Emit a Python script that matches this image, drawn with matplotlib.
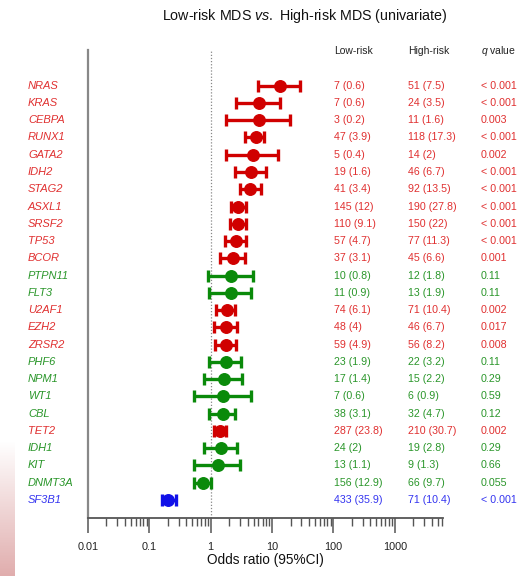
import numpy as np
import matplotlib
matplotlib.use("Agg")
import matplotlib.pyplot as plt
import matplotlib.transforms as mtransforms
from matplotlib.ticker import LogLocator, NullFormatter, FixedLocator

plt.rcParams['font.family'] = ['Liberation Sans', 'DejaVu Sans']
plt.rcParams['mathtext.fontset'] = 'custom'
plt.rcParams['mathtext.rm'] = 'Liberation Sans'
plt.rcParams['mathtext.it'] = 'Liberation Sans:italic'

genes = ["NRAS", "KRAS", "CEBPA", "RUNX1", "GATA2", "IDH2", "STAG2", "ASXL1", "SRSF2", "TP53",
         "BCOR", "PTPN11", "FLT3", "U2AF1", "EZH2", "ZRSR2", "PHF6", "NPM1", "WT1", "CBL",
         "TET2", "IDH1", "KIT", "DNMT3A", "SF3B1"]
odds_ratio = [13.5, 6.1, 6.1, 5.4, 4.9, 4.6, 4.4, 2.8, 2.75, 2.6,
              2.3, 2.18, 2.15, 1.85, 1.8, 1.8, 1.78, 1.63, 1.59, 1.59,
              1.44, 1.48, 1.3, 0.75, 0.205]
ci_low = [6.0, 2.6, 1.78, 3.56, 1.78, 2.5, 2.95, 2.15, 2.1, 1.74,
          1.4, 0.90, 0.93, 1.22, 1.15, 1.17, 0.93, 0.77, 0.53, 0.93,
          1.15, 0.77, 0.54, 0.53, 0.16]
ci_high = [28.8, 13.5, 19.7, 7.4, 12.7, 7.9, 6.5, 3.7, 3.8, 3.7,
           3.56, 4.9, 4.6, 2.5, 2.7, 2.6, 3.14, 3.2, 4.47, 2.47,
           1.8, 2.7, 3.0, 1.0, 0.27]
low_risk = ["7 (0.6)", "7 (0.6)", "3 (0.2)", "47 (3.9)", "5 (0.4)", "19 (1.6)", "41 (3.4)",
            "145 (12)", "110 (9.1)", "57 (4.7)", "37 (3.1)", "10 (0.8)", "11 (0.9)", "74 (6.1)",
            "48 (4)", "59 (4.9)", "23 (1.9)", "17 (1.4)", "7 (0.6)", "38 (3.1)", "287 (23.8)",
            "24 (2)", "13 (1.1)", "156 (12.9)", "433 (35.9)"]
high_risk = ["51 (7.5)", "24 (3.5)", "11 (1.6)", "118 (17.3)", "14 (2)", "46 (6.7)", "92 (13.5)",
             "190 (27.8)", "150 (22)", "77 (11.3)", "45 (6.6)", "12 (1.8)", "13 (1.9)", "71 (10.4)",
             "46 (6.7)", "56 (8.2)", "22 (3.2)", "15 (2.2)", "6 (0.9)", "32 (4.7)", "210 (30.7)",
             "19 (2.8)", "9 (1.3)", "66 (9.7)", "71 (10.4)"]
q_values = ["< 0.001", "< 0.001", "0.003", "< 0.001", "0.002", "< 0.001", "< 0.001", "< 0.001",
            "< 0.001", "< 0.001", "0.001", "0.11", "0.11", "0.002", "0.017", "0.008", "0.11",
            "0.29", "0.59", "0.12", "0.002", "0.29", "0.66", "0.055", "< 0.001"]
group = ["high", "high", "high", "high", "high", "high", "high", "high", "high", "high",
         "high", "ns", "ns", "high", "high", "high", "ns", "ns", "ns", "ns",
         "high", "ns", "ns", "ns", "low"]
tick_values = [0.01, 0.1, 1, 10, 100, 1000]
tick_labels = ["0.01", "0.1", "1", "10", "100", "1000"]

mark_col = {"high": "#D00000", "ns": "#0A8A0A", "low": "#1010E8"}
text_col = {"high": "#E03030", "ns": "#2A962A", "low": "#3434F0"}

W, H = 518, 576
fig = plt.figure(figsize=(W / 100, H / 100), dpi=100)
fig.patch.set_facecolor("white")

# decorative gradient at lower-left
gax = fig.add_axes([0, 0, 15 / W, 135 / H])
grad = np.linspace(0, 1, 100)[:, None]
c0 = np.array([1.0, 1.0, 1.0])
c1 = np.array([0.88, 0.68, 0.68])
img = c0[None, None, :] * (1 - grad[:, :, None]) + c1[None, None, :] * grad[:, :, None]
gax.imshow(img, aspect="auto")
gax.axis("off")

ax = fig.add_axes([88 / W, 1 - 518 / H, (443 - 88) / W, (518 - 50) / H])
y = np.arange(len(genes))
ax.set_xscale("log")
ax.set_xlim(0.01, 10 ** ((443 - 212) / 61.0))
ax.set_ylim(25.05, -2.07)

for g in ["high", "ns", "low"]:
    idx = [i for i, gg in enumerate(group) if gg == g]
    xs = np.array([odds_ratio[i] for i in idx])
    lo = np.array([ci_low[i] for i in idx])
    hi = np.array([ci_high[i] for i in idx])
    ax.errorbar(xs, y[idx], xerr=[xs - lo, hi - xs], fmt="o", color=mark_col[g],
                ecolor=mark_col[g], elinewidth=2.4, capsize=4, capthick=2.4,
                markersize=8.3, zorder=3)

ax.axvline(1, color="#888888", linestyle=(0, (1, 1.5)), linewidth=0.9, zorder=1)

for s in ["top", "right"]:
    ax.spines[s].set_visible(False)
ax.spines["left"].set_color("#888888")
ax.spines["left"].set_linewidth(1.6)
ax.spines["bottom"].set_color("#555555")
ax.spines["bottom"].set_linewidth(1.3)
ax.set_yticks([])

ax.xaxis.set_major_locator(FixedLocator(tick_values))
ax.set_xticklabels(tick_labels)
ax.xaxis.set_minor_locator(LogLocator(base=10, subs=np.arange(2, 10), numticks=20))
ax.xaxis.set_minor_formatter(NullFormatter())
ax.tick_params(axis="x", which="major", length=11, width=1.1, color="#555555",
               labelsize=7.8, pad=6, labelcolor="#222222")
ax.tick_params(axis="x", which="minor", length=6, width=1.0, color="#555555")
ax.set_xlabel("Odds ratio (95%CI)", fontsize=9.8, labelpad=1, color="#111111")

trans = mtransforms.blended_transform_factory(fig.transFigure, ax.transData)
for i in range(len(genes)):
    tc = text_col[group[i]]
    fig.text(28 / W, y[i], genes[i], transform=trans, fontsize=8, style="italic",
             color=tc, va="center", ha="left")
    fig.text(334 / W, y[i], low_risk[i], transform=trans, fontsize=7.7, color=tc,
             va="center", ha="left")
    fig.text(408 / W, y[i], high_risk[i], transform=trans, fontsize=7.7, color=tc,
             va="center", ha="left")
    fig.text(481 / W, y[i], q_values[i], transform=trans, fontsize=7.7, color=tc,
             va="center", ha="left")

hy = 1 - 51 / H
fig.text(334 / W, hy, "Low-risk", fontsize=7.5, color="#222222", va="center", ha="left")
fig.text(408 / W, hy, "High-risk", fontsize=7.5, color="#222222", va="center", ha="left")
fig.text(481 / W, hy, r"$\mathit{q}$ value", fontsize=7.5, color="#222222", va="center", ha="left")

fig.text(305 / W, 1 - 16 / H, r"Low-risk MDS $\mathit{vs.}$ High-risk MDS (univariate)",
         fontsize=10.3, color="#111111", ha="center", va="center")

fig.savefig("out.png", dpi=100, facecolor="white")
